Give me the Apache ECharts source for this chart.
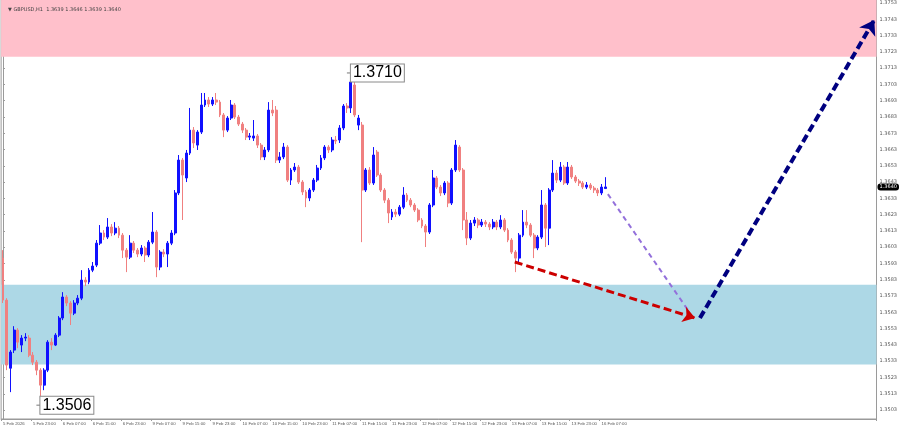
<!DOCTYPE html>
<html>
<head>
<meta charset="utf-8">
<script src="https://cdn.jsdelivr.net/npm/echarts@6/dist/echarts.min.js"></script>
<style>html,body{margin:0;padding:0;background:#fff}#c{width:900px;height:430px}</style>
</head>
<body>
<div id="c"></div>
<script>
// [open, close, low, high] per H1 bar
const feb05 = [ // 15:00 - 23:00
[1.35963,1.35705,1.35687,1.36012],[1.35705,1.35306,1.35275,1.35717],[1.35287,1.35386,1.35140,1.35398],
[1.35398,1.35521,1.35380,1.35545],[1.35521,1.35447,1.35410,1.35533],[1.35429,1.35472,1.35386,1.35490],
[1.35472,1.35478,1.35453,1.35502],[1.35472,1.35367,1.35355,1.35490],[1.35367,1.35324,1.35306,1.35386]
];
const feb06 = [
[1.35324,1.35275,1.35244,1.35337],[1.35275,1.35183,1.35060,1.35287],[1.35183,1.35275,1.35152,1.35287],
[1.35275,1.35447,1.35263,1.35459],[1.35447,1.35429,1.35398,1.35472],[1.35429,1.35490,1.35423,1.35502],
[1.35490,1.35595,1.35478,1.35607],[1.35595,1.35724,1.35582,1.35754],[1.35724,1.35687,1.35668,1.35736],
[1.35687,1.35625,1.35552,1.35699],[1.35625,1.35687,1.35613,1.35705],[1.35687,1.35717,1.35674,1.35736],
[1.35717,1.35828,1.35705,1.35889],[1.35828,1.35816,1.35791,1.35846],[1.35816,1.35889,1.35803,1.35902],
[1.35889,1.35914,1.35877,1.35939],[1.35920,1.36055,1.35908,1.36074],[1.36055,1.36117,1.36043,1.36166],
[1.36117,1.36092,1.36074,1.36135],[1.36092,1.36154,1.36080,1.36209],[1.36154,1.36117,1.36098,1.36172],
[1.36117,1.36147,1.36104,1.36184],[1.36147,1.36104,1.36086,1.36160],[1.36104,1.36012,1.35963,1.36117]
];
const feb09 = [
[1.36012,1.35969,1.35877,1.36025],[1.35969,1.36055,1.35957,1.36104],[1.36055,1.36012,1.35994,1.36068],
[1.36012,1.35988,1.35969,1.36025],[1.35988,1.36025,1.35975,1.36043],[1.36025,1.35982,1.35939,1.36037],
[1.35982,1.36061,1.35969,1.36074],[1.36061,1.36123,1.36049,1.36246],[1.36123,1.35908,1.35846,1.36135],
[1.35908,1.36000,1.35889,1.36012],[1.36000,1.35988,1.35969,1.36018],[1.35988,1.36055,1.35908,1.36068],
[1.36055,1.36117,1.36043,1.36135],[1.36117,1.36363,1.36104,1.36381],[1.36363,1.36565,1.36350,1.36596],
[1.36565,1.36473,1.36197,1.36578],[1.36455,1.36608,1.36430,1.36627],[1.36608,1.36749,1.36596,1.36885],
[1.36749,1.36670,1.36639,1.36768],[1.36657,1.36737,1.36627,1.36749],[1.36737,1.36903,1.36725,1.36977],
[1.36903,1.36934,1.36891,1.36977],[1.36934,1.36909,1.36891,1.36952],[1.36909,1.36934,1.36897,1.36952]
];
const feb10 = [
[1.36934,1.36921,1.36903,1.36977],[1.36921,1.36842,1.36829,1.36934],[1.36842,1.36749,1.36706,1.36854],
[1.36749,1.36823,1.36737,1.36835],[1.36823,1.36903,1.36811,1.36934],[1.36903,1.36829,1.36817,1.36915],
[1.36829,1.36786,1.36774,1.36842],[1.36786,1.36749,1.36731,1.36799],[1.36749,1.36706,1.36688,1.36762],
[1.36706,1.36713,1.36688,1.36731],[1.36700,1.36713,1.36682,1.36811],[1.36713,1.36657,1.36639,1.36725],
[1.36657,1.36584,1.36565,1.36670],[1.36584,1.36627,1.36565,1.36645],[1.36627,1.36872,1.36614,1.36921],
[1.36872,1.36854,1.36835,1.36934],[1.36872,1.36565,1.36547,1.36897],[1.36565,1.36584,1.36547,1.36614],
[1.36584,1.36645,1.36571,1.36670],[1.36645,1.36442,1.36430,1.36657],[1.36442,1.36504,1.36412,1.36516],
[1.36504,1.36522,1.36492,1.36547],[1.36522,1.36430,1.36418,1.36535],[1.36430,1.36369,1.36350,1.36442]
];
const feb11 = [
[1.36369,1.36332,1.36276,1.36381],[1.36332,1.36381,1.36313,1.36393],[1.36381,1.36442,1.36369,1.36455],
[1.36442,1.36516,1.36430,1.36535],[1.36516,1.36578,1.36504,1.36596],[1.36578,1.36645,1.36565,1.36657],
[1.36645,1.36627,1.36608,1.36657],[1.36627,1.36688,1.36614,1.36706],[1.36688,1.36682,1.36663,1.36713],
[1.36688,1.36762,1.36670,1.36780],[1.36762,1.36897,1.36749,1.36909],[1.36897,1.36885,1.36854,1.36915],
[1.36885,1.37044,1.36854,1.37100],[1.37026,1.36842,1.36829,1.37044],[1.36780,1.36823,1.36749,1.36842],
[1.36780,1.36381,1.36061,1.36799],[1.36381,1.36504,1.36369,1.36516],[1.36504,1.36424,1.36412,1.36522],
[1.36424,1.36596,1.36412,1.36645],[1.36614,1.36473,1.36461,1.36627],[1.36473,1.36381,1.36369,1.36485],
[1.36381,1.36319,1.36301,1.36393],[1.36319,1.36240,1.36178,1.36332],[1.36215,1.36246,1.36197,1.36264]
];
const feb12 = [
[1.36246,1.36233,1.36215,1.36264],[1.36233,1.36276,1.36221,1.36289],[1.36276,1.36350,1.36264,1.36399],
[1.36350,1.36319,1.36307,1.36363],[1.36319,1.36289,1.36276,1.36332],[1.36289,1.36258,1.36246,1.36301],
[1.36258,1.36197,1.36184,1.36270],[1.36197,1.36160,1.36147,1.36209],[1.36160,1.36123,1.36031,1.36172],
[1.36123,1.36289,1.36111,1.36301],[1.36289,1.36455,1.36276,1.36504],[1.36455,1.36399,1.36387,1.36467],
[1.36399,1.36363,1.36344,1.36412],[1.36363,1.36424,1.36350,1.36436],[1.36424,1.36301,1.36276,1.36436],
[1.36301,1.36504,1.36289,1.36516],[1.36504,1.36657,1.36492,1.36688],[1.36645,1.36504,1.36492,1.36657],
[1.36504,1.36197,1.36135,1.36516],[1.36197,1.36086,1.36043,1.36246],[1.36086,1.36178,1.36074,1.36197],
[1.36178,1.36197,1.36160,1.36215],[1.36197,1.36166,1.36147,1.36209],[1.36166,1.36184,1.36154,1.36203]
];
const feb13 = [
[1.36184,1.36172,1.36154,1.36197],[1.36172,1.36154,1.36135,1.36184],[1.36154,1.36184,1.36141,1.36203],
[1.36184,1.36154,1.36135,1.36197],[1.36154,1.36197,1.36141,1.36227],[1.36197,1.36135,1.36123,1.36209],
[1.36135,1.36074,1.36061,1.36147],[1.36074,1.36000,1.35988,1.36086],[1.36000,1.35963,1.35877,1.36012],
[1.35963,1.36104,1.35939,1.36117],[1.36104,1.36184,1.36092,1.36258],[1.36184,1.36166,1.36147,1.36258],
[1.36166,1.36104,1.36092,1.36178],[1.36104,1.36025,1.35963,1.36117],[1.36025,1.36092,1.36012,1.36104],
[1.36092,1.36289,1.36080,1.36381],[1.36289,1.36147,1.36031,1.36301],[1.36147,1.36381,1.36043,1.36393],
[1.36381,1.36485,1.36369,1.36565],[1.36485,1.36442,1.36424,1.36504],[1.36442,1.36522,1.36430,1.36553],
[1.36522,1.36424,1.36412,1.36535],[1.36424,1.36522,1.36412,1.36553],[1.36522,1.36461,1.36449,1.36535]
];
const feb16 = [ // 00:00 - 08:00
[1.36461,1.36436,1.36424,1.36473],[1.36436,1.36424,1.36406,1.36449],[1.36424,1.36399,1.36387,1.36436],
[1.36399,1.36412,1.36387,1.36430],[1.36412,1.36393,1.36381,1.36424],[1.36393,1.36381,1.36363,1.36406],
[1.36381,1.36363,1.36344,1.36393],[1.36363,1.36399,1.36350,1.36418],[1.36390,1.36400,1.36390,1.36460]
];
const days = [
  {day:'5 Feb', firstHour:15, bars:feb05},
  {day:'6 Feb', firstHour:0, bars:feb06},
  {day:'9 Feb', firstHour:0, bars:feb09},
  {day:'10 Feb', firstHour:0, bars:feb10},
  {day:'11 Feb', firstHour:0, bars:feb11},
  {day:'12 Feb', firstHour:0, bars:feb12},
  {day:'13 Feb', firstHour:0, bars:feb13},
  {day:'16 Feb', firstHour:0, bars:feb16}
];
const firstLabel = '5 Feb 2026';
const labelHours = ['07:00','15:00','23:00'];
const futureBars = 72;
const yTicks = [1.3503,1.3513,1.3523,1.3533,1.3543,1.3553,1.3563,1.3573,1.3583,1.3593,1.3603,1.3613,1.3623,
  1.3633,1.3643,1.3653,1.3663,1.3673,1.3683,1.3693,1.3703,1.3713,1.3723,1.3733,1.3743,1.3753];
const resistanceZone = [1.3720, 1.3760];
const supportZone = [1.3531, 1.3580];
// arrows: [bar index, price]
const redArrow = [[136.8, 1.35939], [185.0, 1.35595]];
const purpleArrow = [[161.7, 1.36356], [183.1, 1.35644]];
const blueArrow = [[186.3, 1.35595], [232.9, 1.37425]];
const titleText = '\u25BC GBPUSD,H1  1.3639 1.3646 1.3639 1.3640';

const cats = [], bars = [];
days.forEach(d => d.bars.forEach((b, k) => {
  const h = d.firstHour + k;
  cats.push(d.day + ' ' + (h < 10 ? '0' + h : h) + ':00');
  bars.push(b);
}));
const nBars = bars.length;
for (let k = 0; k < futureBars; k++) cats.push('f' + k);
const nCats = cats.length;

let hiIdx = 0, loIdx = 0;
bars.forEach((b, i) => { if (b[3] > bars[hiIdx][3]) hiIdx = i; if (b[2] < bars[loIdx][2]) loIdx = i; });
const lastClose = bars[nBars - 1][1];

const showLabel = (idx, val) => idx < nBars && (idx === 0 || labelHours.some(h => val.endsWith(' ' + h)));
const boxLabel = {
  show: true, position: 'right', distance: 0, color: '#000', fontSize: 16,
  fontFamily: 'Liberation Sans, Arial, sans-serif',
  backgroundColor: '#fff', borderColor: '#8a8a8a', borderWidth: 1, padding: [1, 2, 0, 2],
  formatter: p => p.value.toFixed(4)
};

const chart = echarts.init(document.getElementById('c'), null, {renderer: 'canvas'});
chart.setOption({
  animation: false,
  title: {text: titleText, left: 3, top: 2, textStyle: {fontSize: 5, fontWeight: 'normal', color: '#444', fontFamily: 'DejaVu Sans'}},
  grid: {left: 0, right: 17, top: 0, bottom: 11, show: true, borderColor: '#9a9a9a', borderWidth: 1, backgroundColor: '#fff'},
  xAxis: [{
    type: 'category', data: cats, boundaryGap: true,
    axisLine: {lineStyle: {color: '#9a9a9a'}},
    axisTick: {show: true, interval: showLabel, length: 2, lineStyle: {color: '#9a9a9a'}},
    axisLabel: {interval: showLabel, align: 'left', margin: 3, fontSize: 4.3, color: '#555',
      fontFamily: 'Liberation Sans', hideOverlap: false,
      formatter: (v, i) => i === 0 ? firstLabel : v},
    splitLine: {show: false}
  }, {
    type: 'value', min: -0.5, max: nCats - 0.5, show: false
  }],
  yAxis: {
    type: 'value', position: 'right', min: 1.34975, max: 1.37548, scale: true,
    axisLine: {show: true, lineStyle: {color: '#9a9a9a'}},
    axisTick: {show: true, length: 2, customValues: yTicks, lineStyle: {color: '#9a9a9a'}},
    axisLabel: {customValues: yTicks, margin: 3, fontSize: 5, color: '#555', fontFamily: 'DejaVu Sans', formatter: v => v.toFixed(4)},
    splitLine: {show: false},
    axisPointer: {
      show: true, status: 'show', value: lastClose, triggerTooltip: false, triggerOn: 'none',
      lineStyle: {color: 'rgba(0,0,0,0)', width: 0},
      label: {show: true, backgroundColor: '#000', color: '#fff', fontSize: 5, padding: [1, 2], margin: 1,
        fontFamily: 'DejaVu Sans', formatter: p => p.value.toFixed(4)}
    }
  },
  series: [
    {
      type: 'line', data: [], z: 1, silent: true,
      markArea: {silent: true, data: [
        [{yAxis: resistanceZone[0], itemStyle: {color: '#FFC0CB', opacity: 1}}, {yAxis: resistanceZone[1]}],
        [{yAxis: supportZone[0], itemStyle: {color: '#ADD8E6', opacity: 1}}, {yAxis: supportZone[1]}]
      ]}
    },
    {
      type: 'candlestick', data: bars, z: 3, barWidth: 2.4,
      itemStyle: {color: '#1010FF', color0: '#F08080', borderColor: '#1010FF', borderColor0: '#F08080', borderWidth: 1},
      markPoint: {
        symbol: 'rect', symbolSize: [4, 1], symbolOffset: [-2, 0], itemStyle: {color: '#777'},
        label: boxLabel,
        data: [
          {coord: [hiIdx, bars[hiIdx][3]], value: bars[hiIdx][3]},
          {coord: [loIdx, bars[loIdx][2]], value: bars[loIdx][2]}
        ]
      }
    },
    {
      type: 'lines', coordinateSystem: 'cartesian2d', xAxisIndex: 1, yAxisIndex: 0, z: 5,
      symbol: ['none', 'none'],
      lineStyle: {color: '#9370DB', width: 2, type: [5, 4], opacity: 1},
      data: [{coords: purpleArrow}]
    },
    {
      type: 'lines', coordinateSystem: 'cartesian2d', xAxisIndex: 1, yAxisIndex: 0, z: 6,
      symbol: ['none', 'arrow'], symbolSize: 12,
      lineStyle: {color: '#CC0000', width: 3, type: [8, 4], opacity: 1},
      data: [{coords: redArrow}]
    },
    {
      type: 'lines', coordinateSystem: 'cartesian2d', xAxisIndex: 1, yAxisIndex: 0, z: 6,
      symbol: ['none', 'arrow'], symbolSize: 14,
      lineStyle: {color: '#000080', width: 4, type: [8, 4], opacity: 1},
      data: [{coords: blueArrow}]
    }
  ]
});
</script>
</body>
</html>
